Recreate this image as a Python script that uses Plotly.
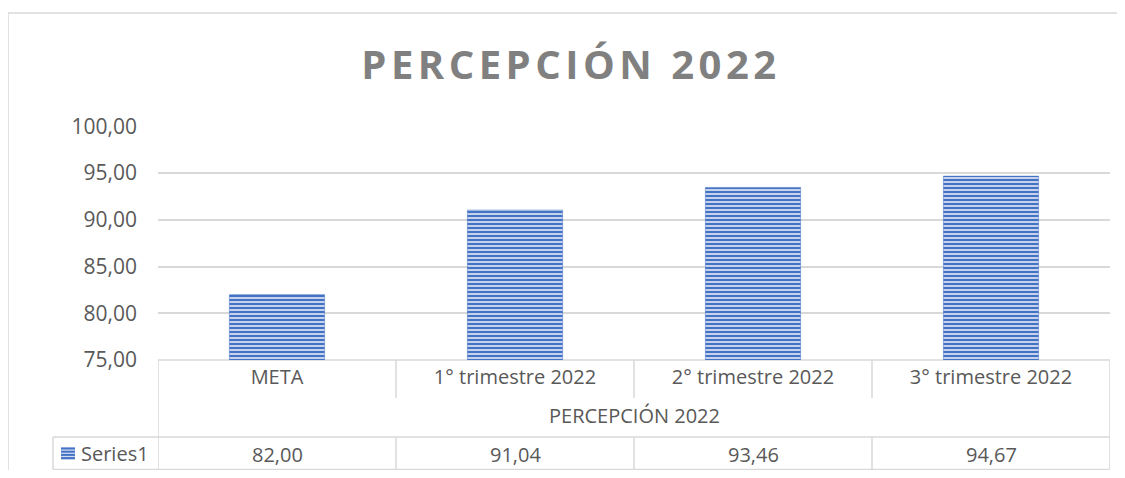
import plotly.graph_objects as go

categories = ["META", "1° trimestre 2022", "2° trimestre 2022", "3° trimestre 2022"]
values = [82.00, 91.04, 93.46, 94.67]
series_name = "Series1"
group_label = "PERCEPCIÓN 2022"
title_text = "PERCEPCIÓN 2022"
y_ticks = [75, 80, 85, 90, 95, 100]

OFF = 8  # page body margin
SW, SH = 1125, 478
W, H = SW - 2 * OFF, SH - 2 * OFF
# plot area in screen pixels
PX0, PX1, PY0, PY1 = 158, 1110, 126, 360
L, R, T = PX0 - OFF, W - (PX1 - OFF), PY0 - OFF
B = H - (PY1 - OFF)
PW, PH = PX1 - PX0, PY1 - PY0

def px_x(px):
    return (px - PX0) / PW

def px_y(py):
    return (PY1 - py) / PH

GRID = "#d9d9d9"
TXT = "#595959"
BLUE = "#4472C4"
LIGHT = "#d3ddf1"
FONT = "Open Sans"

fig = go.Figure()
fig.add_trace(go.Bar(
    x=categories, y=values, name=series_name, width=0.4,
    marker=dict(color=BLUE, line=dict(color=BLUE, width=0.5),
                pattern=dict(shape="-", size=4, solidity=0.55,
                             fgcolor=BLUE, bgcolor=LIGHT, fillmode="replace")),
    showlegend=False,
))

shapes = []
def line(x0, y0, x1, y1, xref="paper", color=GRID, width=1.5, layer="below"):
    shapes.append(dict(type="line", xref=xref, yref="paper", x0=x0, y0=y0, x1=x1, y1=y1,
                       line=dict(color=color, width=width), layer=layer))

# outer chart border (top + left)
line(px_x(8), px_y(13), px_x(SW + 10), px_y(13))
line(px_x(8), px_y(13), px_x(8), px_y(SH + 10))
# table
n = len(categories)
line(0, 0, 1, 0)
for i in range(n + 1):
    xb = i - 0.5
    if i == 0 or i == n:
        line(xb, 0, xb, px_y(470), xref="x")
    else:
        line(xb, 0, xb, px_y(398), xref="x")
        line(xb, px_y(437), xb, px_y(470), xref="x")
line(px_x(53), px_y(437), 1, px_y(437))
line(px_x(53), px_y(469.5), 1, px_y(469.5))
line(px_x(53), px_y(437), px_x(53), px_y(469.5))

# legend key (striped square)
shapes.append(dict(type="rect", xref="paper", yref="paper",
                   x0=px_x(61), x1=px_x(75), y0=px_y(447), y1=px_y(460),
                   fillcolor=LIGHT, line=dict(width=0)))
for k in range(4):
    yy = 448.5 + k * 3.2
    line(px_x(61), px_y(yy), px_x(75), px_y(yy), color=BLUE, width=2, layer="above")

annotations = [dict(text=group_label, xref="paper", yref="paper", x=0.5, y=px_y(415),
                    xanchor="center", yanchor="middle",
                    showarrow=False, font=dict(family=FONT, size=20, color=TXT)),
               dict(text=series_name, xref="paper", yref="paper", x=px_x(79), y=px_y(453),
                    xanchor="left", yanchor="middle",
                    showarrow=False, font=dict(family=FONT, size=20, color=TXT))]
for c, v in zip(categories, values):
    annotations.append(dict(text=f"{v:.2f}".replace(".", ","), xref="x", yref="paper",
                            x=c, y=px_y(454), xanchor="center", yanchor="middle",
                            showarrow=False,
                            font=dict(family=FONT, size=20, color=TXT)))

fig.update_layout(
    width=W, height=H, margin=dict(l=L, r=R, t=T, b=B, pad=0),
    paper_bgcolor="white", plot_bgcolor="white",
    separators=",.",
    title=dict(text=f'<span style="letter-spacing:4.5px">{title_text}</span>',
               x=(571 - OFF) / W, xref="container", xanchor="center",
               y=1 - (65 - OFF) / H, yref="container", yanchor="middle",
               font=dict(family=FONT, size=40, color="#808080", weight="bold")),
    xaxis=dict(range=[-0.5, n - 0.5], showgrid=False, showline=False, zeroline=False,
               ticks="", tickfont=dict(family=FONT, size=20, color=TXT), ticklabelstandoff=3),
    yaxis=dict(range=[75, 100.03], tickvals=y_ticks, tickformat=".2f", showgrid=True,
               gridcolor=GRID, gridwidth=1.5, zeroline=False, showline=False, ticks="",
               tickfont=dict(family=FONT, size=21, color=TXT), ticklabelstandoff=20),
    shapes=shapes, annotations=annotations,
)

fig.write_html("out.html")
